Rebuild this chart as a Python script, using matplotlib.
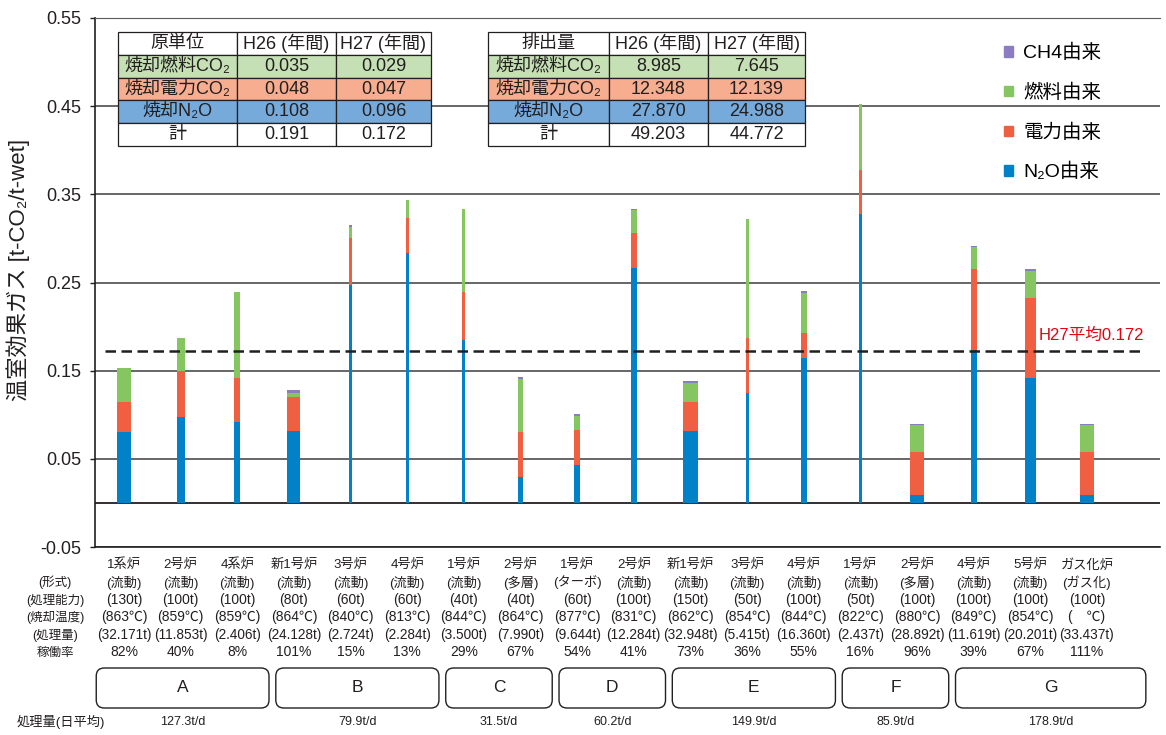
import numpy as np
import matplotlib
matplotlib.use('Agg')
import matplotlib.pyplot as plt
from matplotlib.patches import Patch, FancyBboxPatch
from matplotlib.transforms import blended_transform_factory, IdentityTransform

plt.rcParams['font.family'] = ['Liberation Sans', 'Noto Sans CJK JP', 'DejaVu Sans']

# furnaces, left to right
names = ['1系炉', '2号炉', '4系炉', '新1号炉', '3号炉', '4号炉', '1号炉', '2号炉', '1号炉',
         '2号炉', '新1号炉', '3号炉', '4号炉', '1号炉', '2号炉', '4号炉', '5号炉', 'ガス化炉']
kinds = ['流動', '流動', '流動', '流動', '流動', '流動', '流動', '多層', 'ターボ',
         '流動', '流動', '流動', '流動', '流動', '多層', '流動', '流動', 'ガス化']
capacity = ['130t', '100t', '100t', '80t', '60t', '60t', '40t', '40t', '60t',
            '100t', '150t', '50t', '100t', '50t', '100t', '100t', '100t', '100t']
temps = ['863', '859', '859', '864', '840', '813', '844', '864', '877',
         '831', '862', '854', '844', '822', '880', '849', '854', '\u3000']
amount = ['32.171t', '11.853t', '2.406t', '24.128t', '2.724t', '2.284t', '3.500t', '7.990t', '9.644t',
          '12.284t', '32.948t', '5.415t', '16.360t', '2.437t', '28.892t', '11.619t', '20.201t', '33.437t']
util = ['82%', '40%', '8%', '101%', '15%', '13%', '29%', '67%', '54%',
        '41%', '73%', '36%', '55%', '16%', '96%', '39%', '67%', '111%']

# emissions per tonne [t-CO2/t-wet]
n2o = [0.081, 0.098, 0.092, 0.082, 0.247, 0.283, 0.185, 0.029, 0.043,
       0.266, 0.082, 0.125, 0.164, 0.328, 0.009, 0.174, 0.142, 0.009]
power = [0.034, 0.052, 0.050, 0.0385, 0.053, 0.040, 0.054, 0.052, 0.040,
         0.040, 0.032, 0.0625, 0.029, 0.050, 0.049, 0.091, 0.090, 0.049]
fuel = [0.038, 0.0375, 0.0974, 0.0045, 0.0125, 0.0203, 0.0944, 0.060, 0.0157,
        0.026, 0.0224, 0.134, 0.0456, 0.0743, 0.0303, 0.0255, 0.0307, 0.0303]
ch4 = [0.0, 0.0, 0.0, 0.0026, 0.0023, 0.0, 0.0, 0.002, 0.002,
       0.0013, 0.0016, 0.0, 0.0014, 0.0, 0.0014, 0.001, 0.0023, 0.0014]
h27_avg = 0.172

groups = ['A', 'B', 'C', 'D', 'E', 'F', 'G']
group_size = [3, 3, 2, 2, 3, 2, 3]
daily = ['127.3t/d', '79.9t/d', '31.5t/d', '60.2t/d', '149.9t/d', '85.9t/d', '178.9t/d']

unit_rows = ['焼却燃料CO₂', '焼却電力CO₂', '焼却N₂O', '計']
unit_h26 = ['0.035', '0.048', '0.108', '0.191']
unit_h27 = ['0.029', '0.047', '0.096', '0.172']
total_h26 = ['8.985', '12.348', '27.870', '49.203']
total_h27 = ['7.645', '12.139', '24.988', '44.772']

# drawing widths of the bars (style only)
widths = [0.23, 0.14, 0.11, 0.23, 0.055, 0.055, 0.055, 0.105, 0.105,
          0.105, 0.28, 0.055, 0.105, 0.055, 0.25, 0.105, 0.195, 0.25]

c_n2o, c_pow, c_fuel, c_ch4 = '#0081c8', '#f05f41', '#86c661', '#8e7cc3'
row_cols = ['#c5e0b4', '#f7ad8f', '#76aadb', 'white']
ink = '#231f20'

W, H = 1166, 735
fig = plt.figure(figsize=(W / 100, H / 100), dpi=100)
ax = fig.add_axes([95 / W, 188 / H, 1065 / W, 529 / H])

x = np.arange(len(names))
n2o = np.array(n2o); power = np.array(power); fuel = np.array(fuel); ch4 = np.array(ch4)
ax.bar(x, n2o, widths, color=c_n2o, zorder=3)
ax.bar(x, power, widths, bottom=n2o, color=c_pow, zorder=3)
ax.bar(x, fuel, widths, bottom=n2o + power, color=c_fuel, zorder=3)
ax.bar(x, ch4, widths, bottom=n2o + power + fuel, color=c_ch4, zorder=3)

ax.set_xlim(-0.512, 18.29)
ax.set_ylim(-0.05, 0.55)
yt = np.arange(-0.05, 0.551, 0.1)
ax.set_yticks(yt)
ax.set_yticklabels(['%.2f' % v for v in yt], fontsize=13, color=ink)
ax.set_xticks([])
ax.tick_params(axis='y', length=3.6, width=1, color=ink, pad=6)
ax.grid(axis='y', color='#5a5a5a', lw=1.3, zorder=1)
ax.axhline(0, color=ink, lw=1.3, zorder=2)
ax.spines['right'].set_visible(False)
ax.spines['top'].set_color('#5a5a5a')
for s in ['left', 'bottom']:
    ax.spines[s].set_color(ink)
    ax.spines[s].set_linewidth(1.2)

# H27 average
ax.hlines(h27_avg, -0.34, 17.99, colors=ink, lw=1.8,
          linestyles=(0, (4.2, 2.2)), zorder=4)
ax.text(16.15, h27_avg + 0.009, 'H27平均%.3f' % h27_avg, color='#e60012',
        fontsize=12, va='bottom', ha='left')

fig.text(18 / W, 1 - 270 / H, '温室効果ガス [t-CO₂/t-wet]', rotation=90,
         ha='center', va='center', fontsize=16, color=ink)

# summary tables
def add_table(head, col2, col3, left, colw):
    cells = [[head, 'H26 (年間)', 'H27 (年間)']]
    colors = [['white'] * 3]
    for r, a, b, c in zip(unit_rows, col2, col3, row_cols):
        cells.append([r, a, b])
        colors.append([c] * 3)
    tw = sum(colw)
    tb = ax.table(cellText=cells, cellColours=colors, cellLoc='center',
                  colWidths=[w / tw for w in colw],
                  bbox=[(left - 95) / 1065, (547 - 146) / 529, tw / 1065, 114 / 529])
    tb.auto_set_font_size(False)
    tb.set_fontsize(13)
    tb.set_zorder(6)
    for cell in tb.get_celld().values():
        cell.set_linewidth(0.9)
        cell.set_edgecolor(ink)
        cell.get_text().set_color(ink)

add_table('原単位', unit_h26, unit_h27, 118, [119, 99, 95])
add_table('排出量', total_h26, total_h27, 488, [121, 99, 97])

handles = [Patch(color=c_ch4, label='CH4由来'), Patch(color=c_fuel, label='燃料由来'),
           Patch(color=c_pow, label='電力由来'), Patch(color=c_n2o, label='N₂O由来')]
fig.legend(handles=handles, loc='upper left', bbox_to_anchor=(1004 / W, 1 - 44 / H),
           frameon=False, fontsize=14, handlelength=0.45, handleheight=0.45,
           handletextpad=0.55, labelspacing=1.1, borderpad=0, borderaxespad=0)

# furnace detail rows under the bars
tr = blended_transform_factory(ax.transData, ax.transAxes)
rows = [names,
        ['(%s)' % k for k in kinds],
        ['(%s)' % c for c in capacity],
        ['(%s℃)' % t for t in temps],
        ['(%s)' % a for a in amount],
        util]
row_size = [9.5, 9.5, 10, 10, 9.8, 10]
for r, labels in enumerate(rows):
    yy = (547 - (565 + 17.5 * r)) / 529
    for i, s in enumerate(labels):
        ax.text(i, yy, s, transform=tr, ha='center', va='center', fontsize=row_size[r],
                color=ink, clip_on=False)
headers = ['(形式)', '(処理能力)', '(焼却温度)', '(処理量)', '稼働率']
for r, s in enumerate(headers):
    fig.text(55 / W, 1 - (582.5 + 17.5 * r) / H, s, ha='center', va='center',
             fontsize=9, color=ink)

# group boxes
fig.canvas.draw()
start = 0
for k, (g, n, d) in enumerate(zip(groups, group_size, daily)):
    last = start + n - 1
    x0 = start - 0.49 if k == 0 else start - 0.32
    x1 = last + 1.04 if k == len(groups) - 1 else last + 0.56
    px0 = ax.transData.transform((x0, 0))[0]
    px1 = ax.transData.transform((x1, 0))[0]
    box = FancyBboxPatch((px0, H - 708), px1 - px0, 40,
                         boxstyle='round,pad=0,rounding_size=8',
                         transform=IdentityTransform(), fill=False,
                         edgecolor=ink, lw=1.0)
    fig.add_artist(box)
    cx = (px0 + px1) / 2
    fig.text(cx / W, 1 - 688 / H, g, ha='center', va='center', fontsize=12.5, color=ink)
    fig.text(cx / W, 1 - 722 / H, d, ha='center', va='center', fontsize=9, color=ink)
    start += n
fig.text(61 / W, 1 - 722 / H, '処理量(日平均)', ha='center', va='center',
         fontsize=9.5, color=ink)

fig.savefig('out.png', dpi=100)
